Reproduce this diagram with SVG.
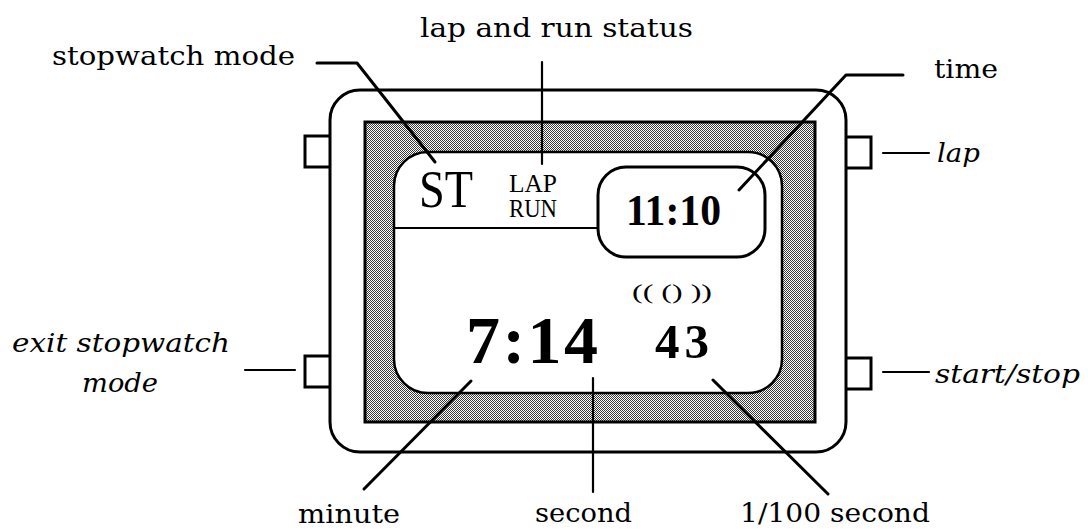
<svg xmlns="http://www.w3.org/2000/svg" width="1088" height="530" viewBox="0 0 1088 530">
<style>
.lbl{font-family:"DejaVu Serif","Liberation Serif",serif;font-size:26px;fill:#000}
.it{font-style:italic}
.lcd{font-family:"Liberation Serif","DejaVu Serif",serif;fill:#000}
.ln{fill:none;stroke:#000;stroke-width:3;stroke-linecap:round;stroke-linejoin:round}
.thin{stroke-width:2.2}
.edge{stroke:#000;stroke-width:3}
</style>
<defs>
<pattern id="dither" width="2" height="2" patternUnits="userSpaceOnUse">
<rect width="2" height="2" fill="#fff"/>
<rect width="1" height="1" fill="#3a3a3a"/>
<rect x="1" y="1" width="1" height="1" fill="#3a3a3a"/>
</pattern>
</defs>
<rect width="1088" height="530" fill="#fff"/>

<g id="buttons">
<rect x="305" y="136" width="26" height="31" fill="#fff" class="edge"/>
<rect x="305" y="356" width="26" height="31" fill="#fff" class="edge"/>
<rect x="845" y="137" width="26" height="31" fill="#fff" class="edge"/>
<rect x="845" y="358" width="26" height="31" fill="#fff" class="edge"/>
</g>

<g id="case">
<rect x="330" y="90" width="516" height="362" rx="30" ry="30" fill="#fff" class="edge"/>
</g>

<g id="bezel">
<rect x="365" y="122" width="450" height="300" fill="url(#dither)" class="edge"/>
</g>

<g id="display">
<rect x="394" y="152" width="388" height="241" rx="34" ry="34" fill="#fff" stroke="#000" stroke-width="2.5"/>
<line x1="394" y1="228" x2="598" y2="228" stroke="#000" stroke-width="2.2"/>
</g>

<g id="timebox">
<rect x="598" y="167" width="167" height="90" rx="28" ry="28" fill="#fff" class="edge"/>
<text class="lcd" x="626" y="225" font-size="44" font-weight="bold" textLength="95" lengthAdjust="spacingAndGlyphs">11:10</text>
</g>

<g id="mode-indicator">
<text class="lcd" x="419" y="207" font-size="52" textLength="54" lengthAdjust="spacingAndGlyphs">ST</text>
</g>

<g id="status-indicator">
<text class="lcd" x="509" y="192" font-size="25" textLength="48" lengthAdjust="spacingAndGlyphs">LAP</text>
<text class="lcd" x="509" y="217" font-size="25" textLength="48" lengthAdjust="spacingAndGlyphs">RUN</text>
</g>

<g id="stopwatch-readout">
<text class="lcd" x="632" y="299" font-size="22" textLength="80" lengthAdjust="spacingAndGlyphs">(( () ))</text>
<text class="lcd" x="466" y="363" font-size="68" font-weight="bold" textLength="132" lengthAdjust="spacing">7:14</text>
<text class="lcd" x="655" y="358" font-size="49" font-weight="bold" textLength="54" lengthAdjust="spacing">43</text>
</g>

<g id="connectors">
<path class="ln" d="M317,63 H357 L435,162"/>
<path class="ln thin" d="M542,62 V164"/>
<path class="ln" d="M903,75 H846 L739,190"/>
<path class="ln thin" d="M883,153 H929"/>
<path class="ln thin" d="M883,372 H929"/>
<path class="ln thin" d="M245,370 H295"/>
<path class="ln" d="M471,381 L364,489"/>
<path class="ln thin" d="M593,378 V492"/>
<path class="ln" d="M713,380 L828,494"/>
</g>

<g id="label-lap-run-status"><text class="lbl" x="420" y="37" textLength="273" lengthAdjust="spacingAndGlyphs">lap and run status</text></g>
<g id="label-stopwatch-mode"><text class="lbl" x="52" y="65" textLength="243" lengthAdjust="spacingAndGlyphs">stopwatch mode</text></g>
<g id="label-time"><text class="lbl" x="934" y="78" textLength="64" lengthAdjust="spacingAndGlyphs">time</text></g>
<g id="label-lap"><text class="lbl it" x="937" y="162" textLength="43" lengthAdjust="spacingAndGlyphs">lap</text></g>
<g id="label-start-stop"><text class="lbl it" x="935" y="383" textLength="145" lengthAdjust="spacingAndGlyphs">start/stop</text></g>
<g id="label-exit">
<text class="lbl it" x="12" y="352" textLength="218" lengthAdjust="spacingAndGlyphs">exit stopwatch</text>
<text class="lbl it" x="82" y="392" textLength="76" lengthAdjust="spacingAndGlyphs">mode</text>
</g>
<g id="label-minute"><text class="lbl" x="298" y="523" textLength="102" lengthAdjust="spacingAndGlyphs">minute</text></g>
<g id="label-second"><text class="lbl" x="535" y="522" textLength="97" lengthAdjust="spacingAndGlyphs">second</text></g>
<g id="label-hundredth"><text class="lbl" x="740" y="522" textLength="190" lengthAdjust="spacingAndGlyphs">1/100 second</text></g>
</svg>
